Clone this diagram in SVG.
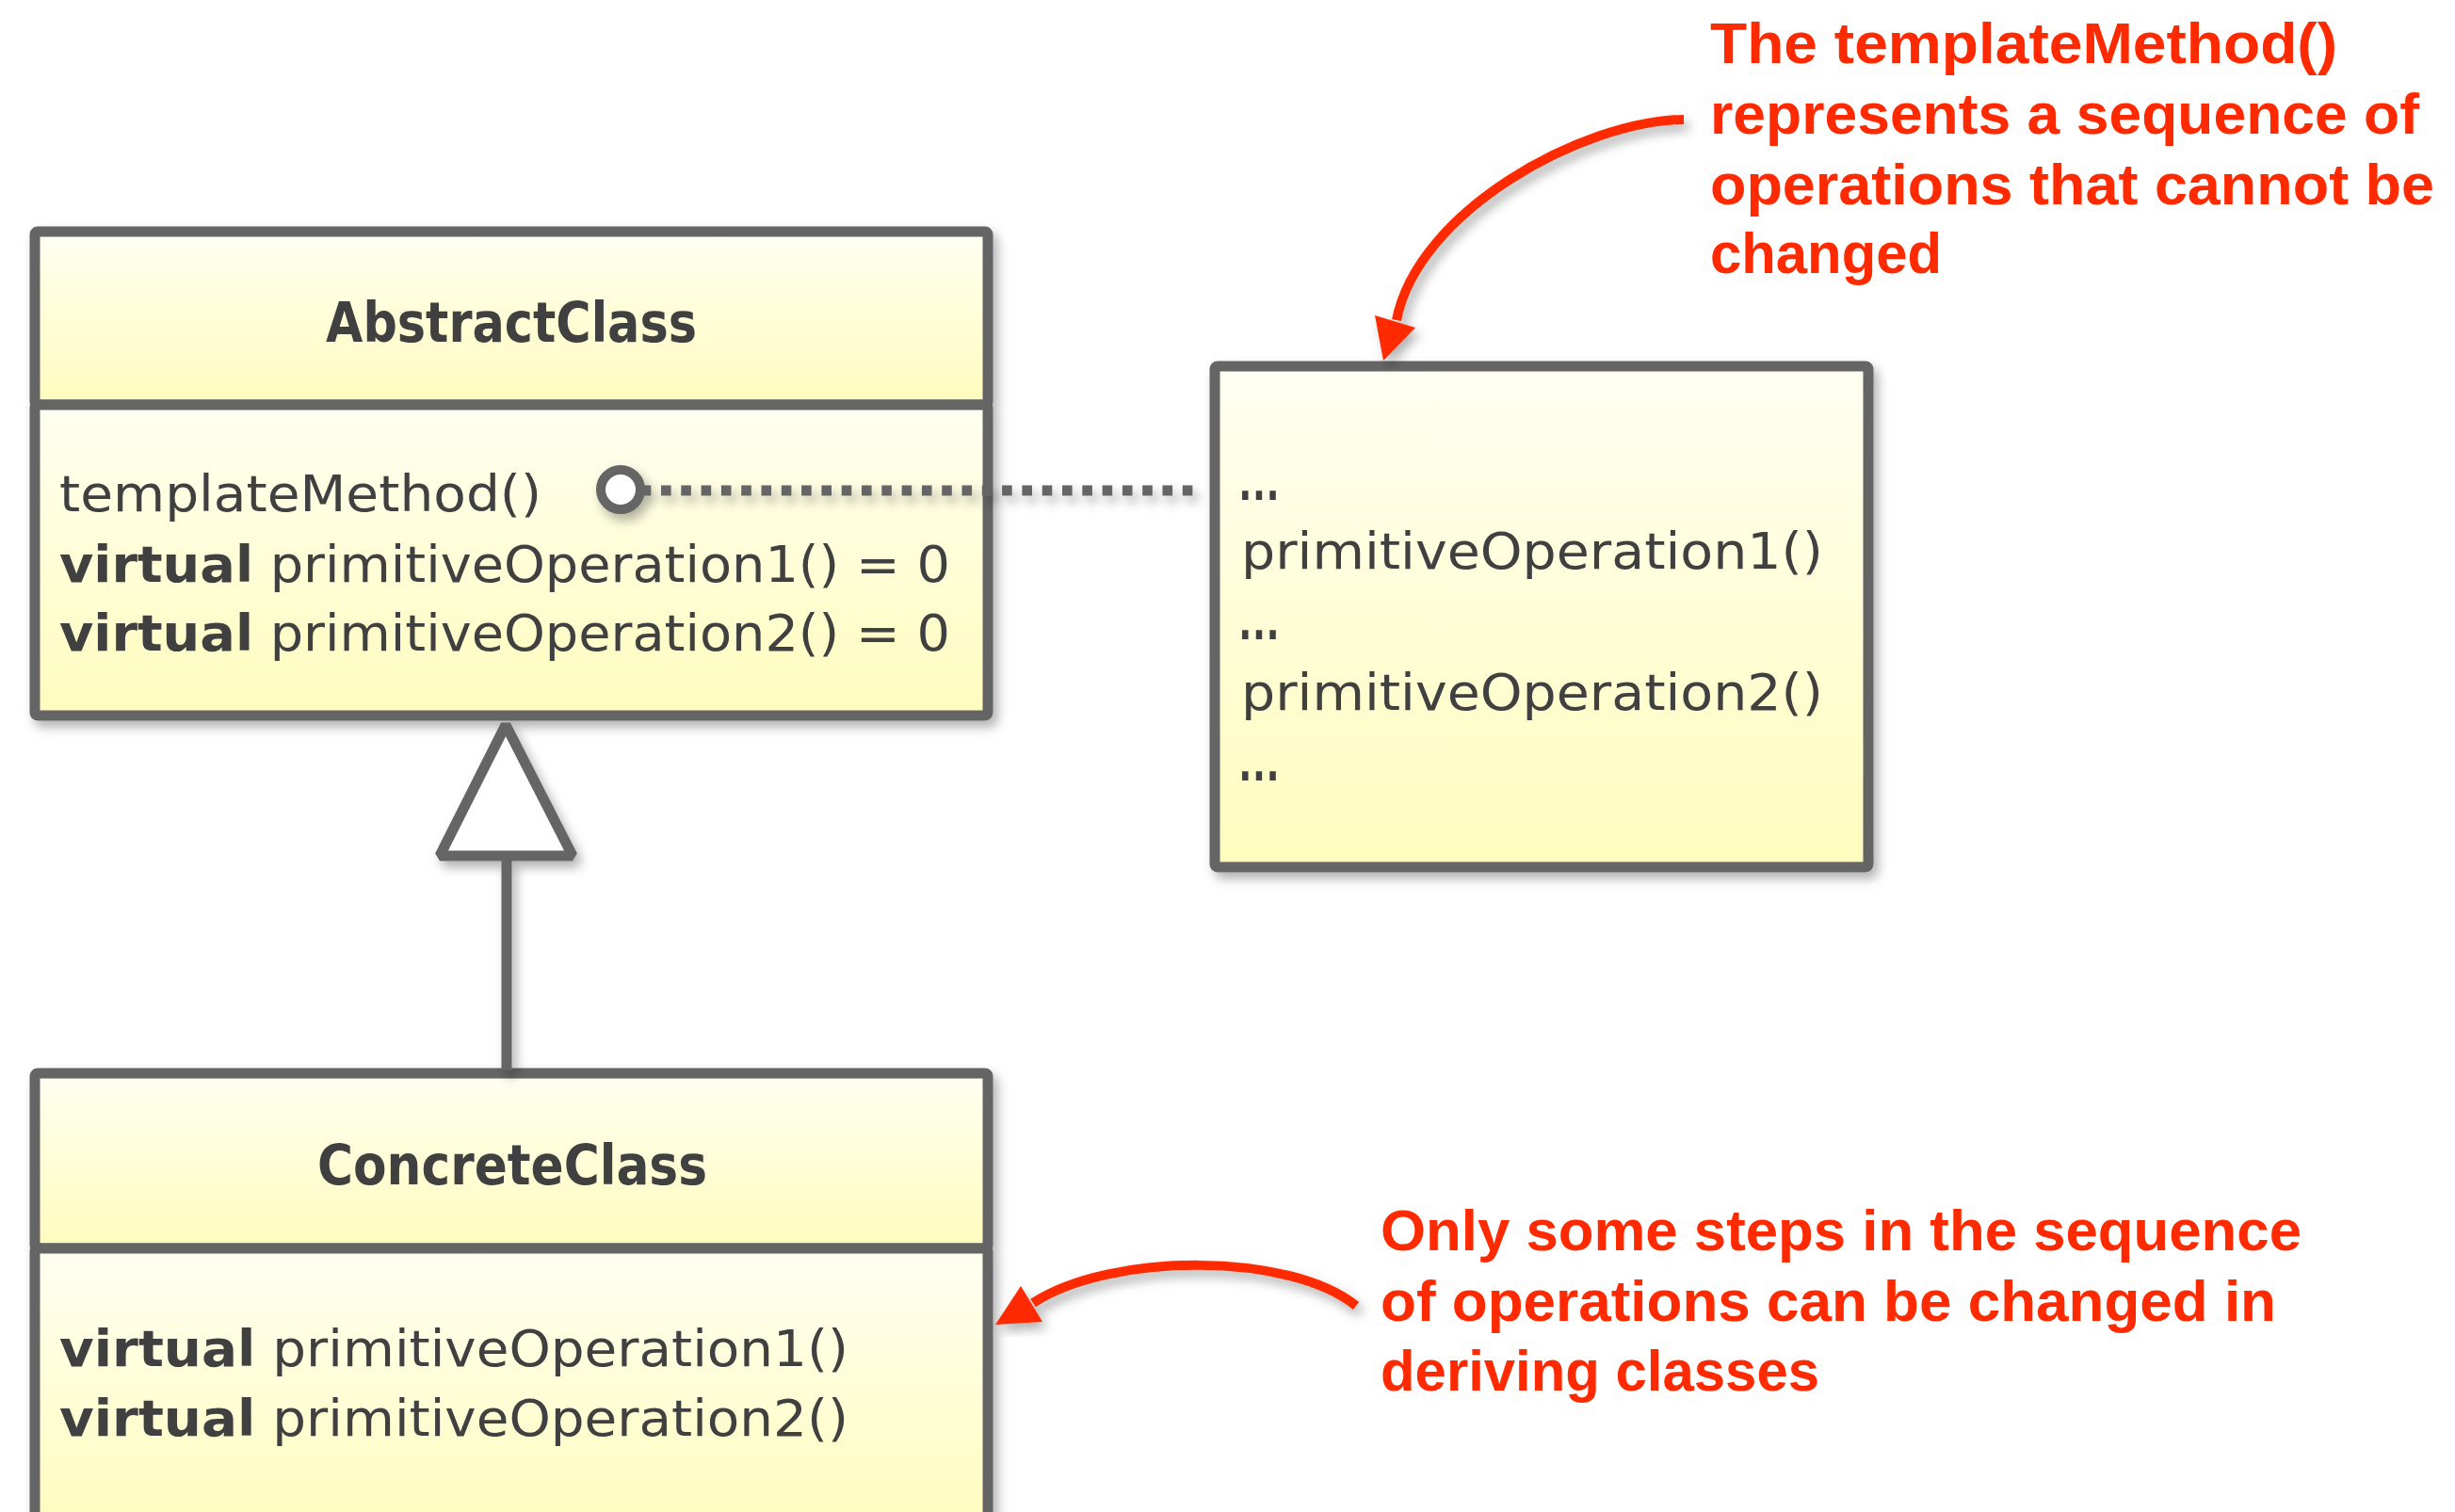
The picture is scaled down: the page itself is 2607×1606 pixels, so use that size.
<svg xmlns="http://www.w3.org/2000/svg" width="2607" height="1606" viewBox="0 0 2607 1606">
<defs>
<linearGradient id="fillGrad" x1="0" y1="0" x2="0" y2="1">
<stop offset="0" stop-color="#fffff2"/>
<stop offset="1" stop-color="#fefcbd"/>
</linearGradient>
<filter id="shadow" x="-10%" y="-10%" width="130%" height="130%">
<feDropShadow dx="5" dy="7" stdDeviation="6" flood-color="#000" flood-opacity="0.3"/>
</filter>
<style>
.box{fill:url(#fillGrad);stroke:#656565;stroke-width:11;stroke-linejoin:round}
.line{stroke:#656565;stroke-width:11;fill:none}
.t{font-family:"DejaVu Sans","Liberation Sans",sans-serif;font-size:54px;fill:#3f3f3f}
.b{font-weight:bold}
.dots{font-family:"Liberation Sans",Arial,sans-serif;font-size:64px;font-weight:bold;fill:#3f3f3f}
.title{font-family:"DejaVu Sans","Liberation Sans",sans-serif;font-size:58px;font-weight:bold;fill:#3f3f3f}
.note{font-family:"Liberation Sans",Arial,sans-serif;font-size:62px;font-weight:bold;fill:#ff2a00}
.red{stroke:#ff2a00;stroke-width:10;fill:none}
.redhead{fill:#ff2a00}
</style>
</defs>
<rect width="2607" height="1606" fill="#ffffff"/>

<g id="AbstractClass" filter="url(#shadow)">
<rect class="box" x="37" y="246" width="1012" height="184" rx="3"/>
<rect class="box" x="37" y="430" width="1012" height="330" rx="3"/>
<text class="title" x="543" y="363" text-anchor="middle" textLength="394" lengthAdjust="spacingAndGlyphs">AbstractClass</text>
<text class="t" x="63" y="543" textLength="512" lengthAdjust="spacingAndGlyphs">templateMethod()</text>
<text class="t" x="63" y="618" textLength="946" lengthAdjust="spacingAndGlyphs"><tspan class="b">virtual</tspan> primitiveOperation1() = 0</text>
<text class="t" x="63" y="691" textLength="946" lengthAdjust="spacingAndGlyphs"><tspan class="b">virtual</tspan> primitiveOperation2() = 0</text>
</g>

<g id="ConcreteClass" filter="url(#shadow)">
<rect class="box" x="37" y="1140" width="1012" height="186" rx="3"/>
<rect class="box" x="37" y="1326" width="1012" height="300" rx="3"/>
<text class="title" x="544" y="1258" text-anchor="middle" textLength="414" lengthAdjust="spacingAndGlyphs">ConcreteClass</text>
<text class="t" x="63" y="1451" textLength="838" lengthAdjust="spacingAndGlyphs"><tspan class="b">virtual</tspan> primitiveOperation1()</text>
<text class="t" x="63" y="1525" textLength="838" lengthAdjust="spacingAndGlyphs"><tspan class="b">virtual</tspan> primitiveOperation2()</text>
</g>

<g id="TemplateNote" filter="url(#shadow)">
<rect class="box" x="1290" y="389" width="694" height="532" rx="3"/>
<text class="dots" x="1314" y="531" textLength="46" lengthAdjust="spacingAndGlyphs">…</text>
<text class="t" x="1318" y="604" textLength="618" lengthAdjust="spacingAndGlyphs">primitiveOperation1()</text>
<text class="dots" x="1314" y="679" textLength="46" lengthAdjust="spacingAndGlyphs">…</text>
<text class="t" x="1318" y="754" textLength="618" lengthAdjust="spacingAndGlyphs">primitiveOperation2()</text>
<text class="dots" x="1314" y="829" textLength="46" lengthAdjust="spacingAndGlyphs">…</text>
</g>

<g id="connectors" filter="url(#shadow)">
<line class="line" x1="680.7" y1="521" x2="1267" y2="521" stroke-width="10.6" stroke-dasharray="10.6 10.7"/>
<circle cx="659" cy="520" r="21" fill="#ffffff" stroke="#656565" stroke-width="10"/>
<line class="line" x1="538" y1="912" x2="538" y2="1137"/>
<polygon points="537,770 467,909 608,909" fill="#ffffff" stroke="#656565" stroke-width="11" stroke-linejoin="bevel"/>
</g>

<g id="annotation-top">
<g filter="url(#shadow)">
<path class="red" d="M1788,127 C1680,128 1505,225 1483,340"/>
<polygon class="redhead" points="1469,383 1460,335 1503,348"/>
</g>
<text class="note" x="1816" y="67" textLength="666" lengthAdjust="spacingAndGlyphs">The templateMethod()</text>
<text class="note" x="1816" y="142" textLength="753" lengthAdjust="spacingAndGlyphs">represents a sequence of</text>
<text class="note" x="1816" y="217" textLength="769" lengthAdjust="spacingAndGlyphs">operations that cannot be</text>
<text class="note" x="1816" y="290" textLength="246" lengthAdjust="spacingAndGlyphs">changed</text>
</g>

<g id="annotation-bottom">
<g filter="url(#shadow)">
<path class="red" d="M1440,1387 C1370,1330 1180,1330 1097,1384"/>
<polygon class="redhead" points="1057,1407 1084,1366 1107,1404"/>
</g>
<text class="note" x="1466" y="1328" textLength="978" lengthAdjust="spacingAndGlyphs">Only some steps in the sequence</text>
<text class="note" x="1466" y="1403" textLength="951" lengthAdjust="spacingAndGlyphs">of operations can be changed in</text>
<text class="note" x="1466" y="1477" textLength="466" lengthAdjust="spacingAndGlyphs">deriving classes</text>
</g>
</svg>
